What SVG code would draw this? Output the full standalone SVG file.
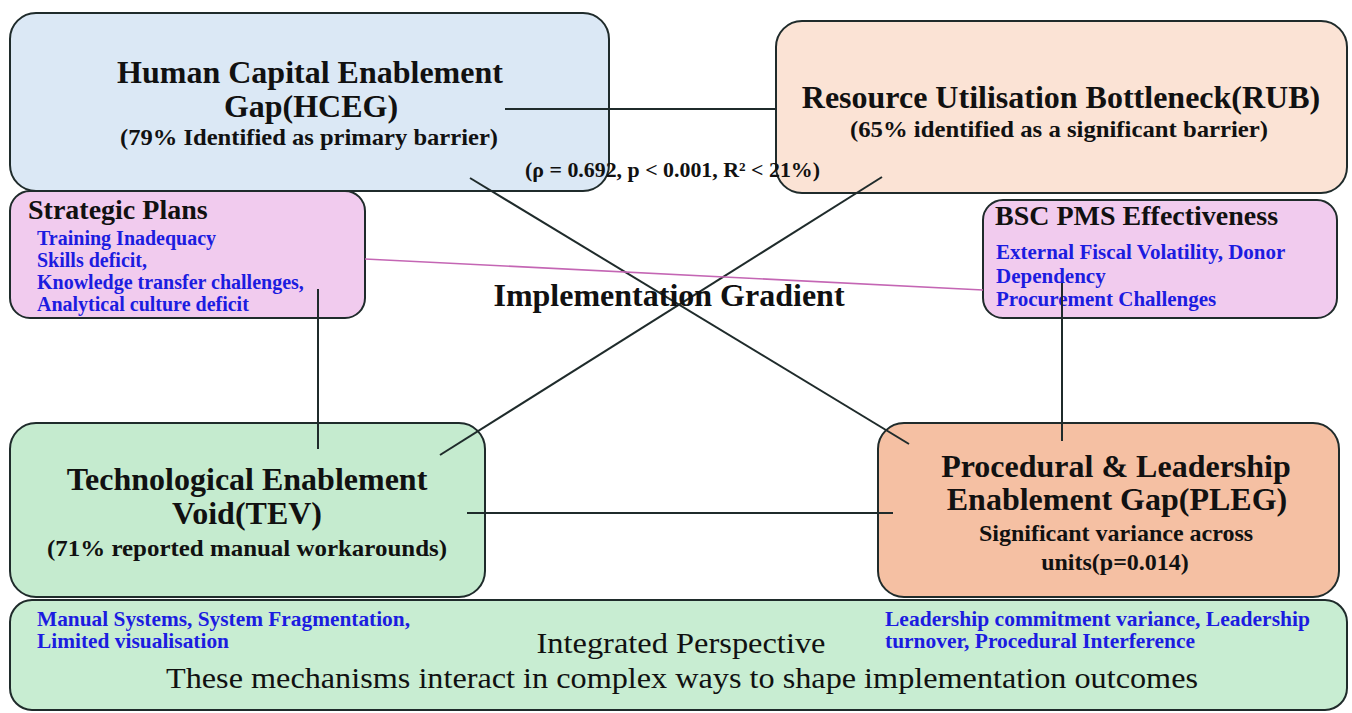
<svg xmlns="http://www.w3.org/2000/svg" width="1352" height="713" viewBox="0 0 1352 713" font-family="Liberation Serif, Times New Roman, serif">
  <style>
    .box { stroke: #1f2b2b; stroke-width: 2; }
    .title { font-weight: bold; fill: #111; font-size: 32px; }
    .sub { font-weight: bold; fill: #111; font-size: 24px; }
    .head { font-weight: bold; fill: #111; font-size: 28px; }
    .item { font-weight: bold; fill: #1c1ce0; }
    .plain { fill: #111; }
    .link { stroke: #1f2b2b; stroke-width: 2; fill: none; }
  </style>
  <rect width="1352" height="713" fill="#ffffff"/>

  <!-- node boxes -->
  <g id="hceg">
    <rect class="box" x="10" y="13" width="599" height="178" rx="26" fill="#dbe8f5"/>
    <text class="title" x="310" y="83" text-anchor="middle">Human Capital Enablement</text>
    <text class="title" x="311" y="117" text-anchor="middle">Gap(HCEG)</text>
    <text class="sub" x="309" y="145" text-anchor="middle" textLength="378" lengthAdjust="spacingAndGlyphs">(79% Identified as primary  barrier)</text>
  </g>

  <g id="rub">
    <rect class="box" x="776" y="21" width="571" height="172" rx="26" fill="#fbe3d5"/>
    <text class="title" x="1061" y="108" text-anchor="middle">Resource Utilisation Bottleneck(RUB)</text>
    <text class="sub" x="1059" y="137" text-anchor="middle" textLength="418" lengthAdjust="spacingAndGlyphs">(65% identified as a significant barrier)</text>
  </g>

  <g id="strategic-plans">
    <rect class="box" x="10" y="191" width="355" height="127" rx="20" fill="#f1cbee"/>
    <text class="head" x="28" y="219">Strategic Plans</text>
    <text class="item" x="37" y="245" font-size="20">Training Inadequacy</text>
    <text class="item" x="37" y="267" font-size="20">Skills  deficit,</text>
    <text class="item" x="37" y="289" font-size="20">Knowledge transfer challenges,</text>
    <text class="item" x="37" y="311" font-size="20">Analytical culture deficit</text>
  </g>

  <g id="bsc-pms">
    <rect class="box" x="983" y="200" width="354" height="118" rx="20" fill="#f1cbee"/>
    <text class="head" x="995" y="225">BSC PMS Effectiveness</text>
    <text class="item" x="996" y="259" font-size="21">External Fiscal Volatility, Donor</text>
    <text class="item" x="996" y="283" font-size="21">Dependency</text>
    <text class="item" x="996" y="306" font-size="21">Procurement Challenges</text>
  </g>

  <g id="tev">
    <rect class="box" x="10" y="423" width="475" height="174" rx="26" fill="#c5ebcf"/>
    <text class="title" x="247" y="490" text-anchor="middle">Technological Enablement</text>
    <text class="title" x="247" y="524" text-anchor="middle">Void(TEV)</text>
    <text class="sub" x="247" y="556" text-anchor="middle" textLength="400" lengthAdjust="spacingAndGlyphs">(71% reported  manual workarounds)</text>
  </g>

  <g id="pleg">
    <rect class="box" x="878" y="423" width="461" height="174" rx="26" fill="#f5c0a3"/>
    <text class="title" x="1116" y="477" text-anchor="middle">Procedural &amp; Leadership</text>
    <text class="title" x="1117" y="510" text-anchor="middle">Enablement Gap(PLEG)</text>
    <text class="sub" x="1116" y="541" text-anchor="middle">Significant variance  across</text>
    <text class="sub" x="1115" y="570" text-anchor="middle">units(p=0.014)</text>
  </g>

  <g id="integrated-perspective">
    <rect class="box" x="10" y="600" width="1337" height="110" rx="22" fill="#c8edd2"/>
    <text class="item" x="37" y="626" font-size="21" textLength="373" lengthAdjust="spacingAndGlyphs">Manual Systems, System Fragmentation,</text>
    <text class="item" x="37" y="648" font-size="21" textLength="192" lengthAdjust="spacingAndGlyphs">Limited visualisation</text>
    <text class="plain" x="681" y="653" font-size="29" text-anchor="middle" textLength="289" lengthAdjust="spacingAndGlyphs">Integrated Perspective</text>
    <text class="plain" x="682" y="688" font-size="30" text-anchor="middle" textLength="1032" lengthAdjust="spacingAndGlyphs">These mechanisms interact in complex ways to shape implementation outcomes</text>
    <text class="item" x="885" y="626" font-size="21" textLength="425" lengthAdjust="spacingAndGlyphs">Leadership commitment variance, Leadership</text>
    <text class="item" x="885" y="648" font-size="21" textLength="310" lengthAdjust="spacingAndGlyphs">turnover, Procedural Interference</text>
  </g>

  <!-- connectors drawn over the boxes -->
  <g id="connectors">
    <line class="link" x1="505" y1="109" x2="776" y2="109"/>
    <line class="link" x1="470" y1="178" x2="909" y2="444"/>
    <line class="link" x1="882" y1="177" x2="440" y2="455"/>
    <line class="link" x1="318" y1="289" x2="318" y2="449"/>
    <line class="link" x1="1062" y1="283" x2="1062" y2="441"/>
    <line class="link" x1="467" y1="513" x2="893" y2="513"/>
    <line x1="365" y1="259" x2="983" y2="290" stroke="#c466b4" stroke-width="1.6"/>
  </g>

  <g id="labels">
    <text class="sub" x="525" y="177" style="font-size:21px" textLength="295" lengthAdjust="spacingAndGlyphs">(ρ = 0.692, p &lt; 0.001, R² &lt; 21%)</text>
    <text class="title" x="669" y="306" text-anchor="middle">Implementation Gradient</text>
  </g>
</svg>
